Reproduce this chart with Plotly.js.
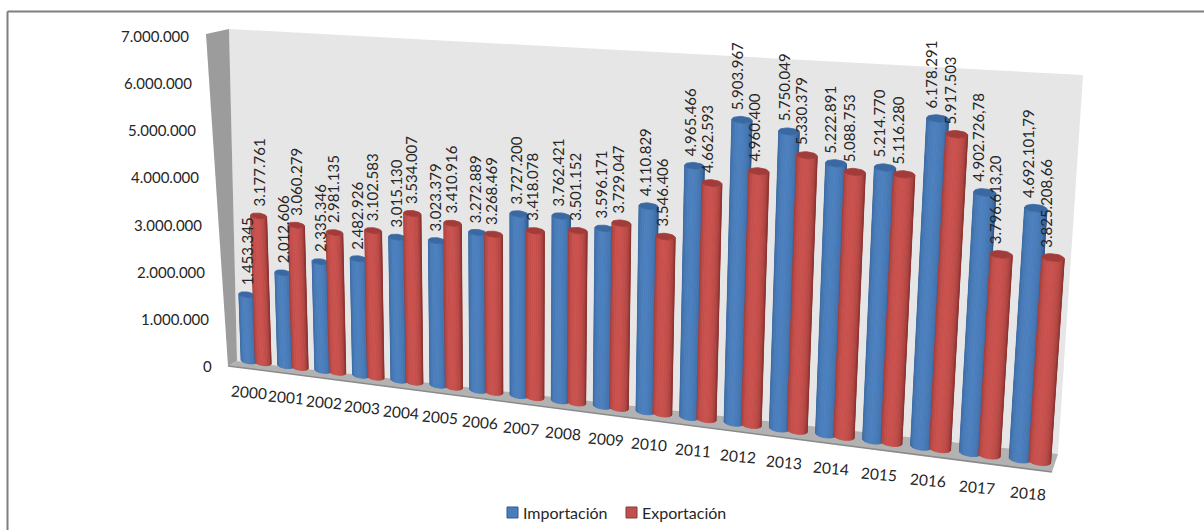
<!DOCTYPE html>
<html>
<head>
<meta charset="utf-8">
<script src="https://cdn.plot.ly/plotly-3.0.1.min.js"></script>
<style>html,body{margin:0;padding:0;background:#fff}#chart{width:1204px;height:530px}</style>
</head>
<body>
<div id="chart"></div>
<script>
var years = ['2000','2001','2002','2003','2004','2005','2006','2007','2008','2009','2010','2011','2012','2013','2014','2015','2016','2017','2018'];
var importacion = [1453345,2012606,2335346,2482926,3015130,3023379,3272889,3727200,3762421,3596171,4110829,4965466,5903967,5750049,5222891,5214770,6178291,4902726.78,4692101.79];
var exportacion = [3177761,3060279,2981135,3102583,3534007,3410916,3268469,3418078,3501152,3729047,3546406,4662593,4960400,5330379,5088753,5116280,5917503,3796613.20,3825208.66];
var yTicks = [0,1000000,2000000,3000000,4000000,5000000,6000000,7000000];
var seriesNames = ['Importación','Exportación'];

var FONT = 'Lato, "Open Sans", sans-serif';
var TEXT = '#262626';

// perspective of the plane that holds the bar axes (category index, value) -> page pixels
var quad = [[249,361],[1020,459],[1044,79],[238,31]];
var H = (function(q){
  var x0=q[0][0],y0=q[0][1],x1=q[1][0],y1=q[1][1],x2=q[2][0],y2=q[2][1],x3=q[3][0],y3=q[3][1];
  var dx1=x1-x2,dx2=x3-x2,sx=x0-x1+x2-x3,dy1=y1-y2,dy2=y3-y2,sy=y0-y1+y2-y3;
  var den=dx1*dy2-dx2*dy1;
  var g=(sx*dy2-dx2*sy)/den,h=(dx1*sy-sx*dy1)/den;
  return {a:x1-x0+g*x1,b:x3-x0+h*x3,c:x0,d:y1-y0+g*y1,e:y3-y0+h*y3,f:y0,g:g,h:h};
})(quad);
function proj(i,v){
  var w=v/7000000;
  var ii=i-0.09*Math.sin(Math.PI*i/18);
  var u=ii/18,den=H.g*u+H.h*w+1;
  return [(H.a*u+H.b*w+H.c)/den,(H.d*u+H.e*w+H.f)/den];
}

function fmt(n){
  var whole=Number.isInteger(n),s=whole?String(n):n.toFixed(2),p=s.split('.');
  var t=p[0].replace(/\B(?=(\d{3})+$)/g,'.');
  return p.length>1?t+','+p[1]:t;
}
function mix(c1,c2,t){
  var r=[0,1,2].map(function(k){return Math.round(c1[k]+(c2[k]-c1[k])*t);});
  return 'rgb('+r.join(',')+')';
}

var palette = [
  {edge:[42,84,136],mid:[76,128,190],top:[58,104,162]},
  {edge:[132,46,44],mid:[202,82,78],top:[162,60,58]}
];
var OFFSET=[0,0.39], R=0.215, STRIPS=14;
var traces=[];
function poly(xs,ys,color){
  traces.push({type:'scatter',mode:'lines',x:xs,y:ys,fill:'toself',fillcolor:color,
    line:{color:color,width:0.8},hoverinfo:'skip',showlegend:false,cliponaxis:false});
}
function cylinder(i,v,pal){
  var spacing=proj(i+0.5,0)[0]-proj(i-0.5,0)[0];
  var ry=spacing*0.075;
  for(var k=0;k<STRIPS;k++){
    var a=Math.PI*k/STRIPS,b=Math.PI*(k+1)/STRIPS,xs=[],ys=[];
    var sa=-Math.cos(a)*R,sb=-Math.cos(b)*R;
    var oa=Math.sin(a)*ry,ob=Math.sin(b)*ry;
    var A=proj(i+sa,0),B=proj(i+sb,0),C=proj(i+sb,v),D=proj(i+sa,v);
    xs=[A[0],B[0],C[0],D[0],A[0]];
    ys=[A[1]+oa,B[1]+ob,C[1]+ob,D[1]+oa,A[1]+oa];
    var pos=(k+0.5)/STRIPS, t=1-Math.pow(Math.abs(pos-0.45)/0.55,1.8);
    poly(xs,ys,mix(pal.edge,pal.mid,t));
  }
  var ex=[],ey=[];
  for(var n=0;n<=28;n++){
    var th=2*Math.PI*n/28,p=proj(i+Math.cos(th)*R,v);
    ex.push(p[0]);ey.push(p[1]+Math.sin(th)*ry);
  }
  poly(ex,ey,mix(pal.top,pal.top,0));
}

var annotations=[];
function note(x,y,text,extra,size){
  var a={x:x,y:y,xref:'x',yref:'y',text:text,showarrow:false,font:{family:FONT,size:size||15,color:TEXT}};
  for(var k in extra)a[k]=extra[k];
  annotations.push(a);
}

years.forEach(function(yr,i){
  [importacion,exportacion].forEach(function(vals,s){
    cylinder(i+OFFSET[s],vals[i],palette[s]);
  });
});
years.forEach(function(yr,i){
  [importacion,exportacion].forEach(function(vals,s){
    var p=proj(i+OFFSET[s],vals[i]);
    var spacing=proj(i+0.5,0)[0]-proj(i-0.5,0)[0];
    note(p[0]-0.4*i,p[1]-spacing*0.085-4,fmt(vals[i]),{textangle:-90,xanchor:'center',yanchor:'bottom'});
  });
  var lp=proj(i-0.03+0.23*i/18,-700000);
  note(lp[0],lp[1]-3*i/18,yr,{textangle:5,xanchor:'center',yanchor:'middle'},15.5);
});
yTicks.forEach(function(v){
  var w=v/7000000;
  note(214-23*w,366-330*w,fmt(v),{xanchor:'right',yanchor:'middle'});
});

// legend
note(521,512,seriesNames[0],{xanchor:'left',yanchor:'middle'},16);
note(640,512,seriesNames[1],{xanchor:'left',yanchor:'middle'},16);

function path(pts){return 'M'+pts.map(function(p){return p.join(' ');}).join('L')+'Z';}
function shape(pts,fill,lineColor,lw){
  return {type:'path',xref:'x',yref:'y',layer:'below',path:path(pts),fillcolor:fill,
    line:{color:lineColor||fill,width:lw===undefined?0:lw}};
}
var shapes=[
  shape([[229,29],[1083,75],[1058,454],[237,361]],'#e6e6e6'),
  shape([[206,34],[229,29],[237,361],[228,366]],'#9c9c9c'),
  shape([[228,366],[237,361],[1058,454],[1052,472]],'#b2b2b2'),
  {type:'line',xref:'x',yref:'y',layer:'below',x0:228,y0:366,x1:1052,y1:472,line:{color:'#8a8a8a',width:1.5}},
  {type:'rect',xref:'x',yref:'y',layer:'below',x0:507,x1:518,y0:507,y1:518,fillcolor:'#4a7ebb',line:{color:'#2f5a8f',width:1}},
  {type:'rect',xref:'x',yref:'y',layer:'below',x0:626,x1:637,y0:507,y1:518,fillcolor:'#c0504d',line:{color:'#8c3836',width:1}},
  {type:'line',xref:'x',yref:'y',layer:'below',x0:7.5,y0:11.5,x1:1204,y1:11.5,line:{color:'#7f7f7f',width:2}},
  {type:'line',xref:'x',yref:'y',layer:'below',x0:7.5,y0:11.5,x1:7.5,y1:530,line:{color:'#7f7f7f',width:2}}
];

Plotly.newPlot('chart',traces,{
  width:1204,height:530,margin:{l:0,r:0,t:0,b:0},
  paper_bgcolor:'#fff',plot_bgcolor:'#fff',showlegend:false,
  xaxis:{range:[0,1204],visible:false,fixedrange:true},
  yaxis:{range:[530,0],visible:false,fixedrange:true},
  shapes:shapes,annotations:annotations
},{displayModeBar:false,staticPlot:true});
</script>
</body>
</html>
